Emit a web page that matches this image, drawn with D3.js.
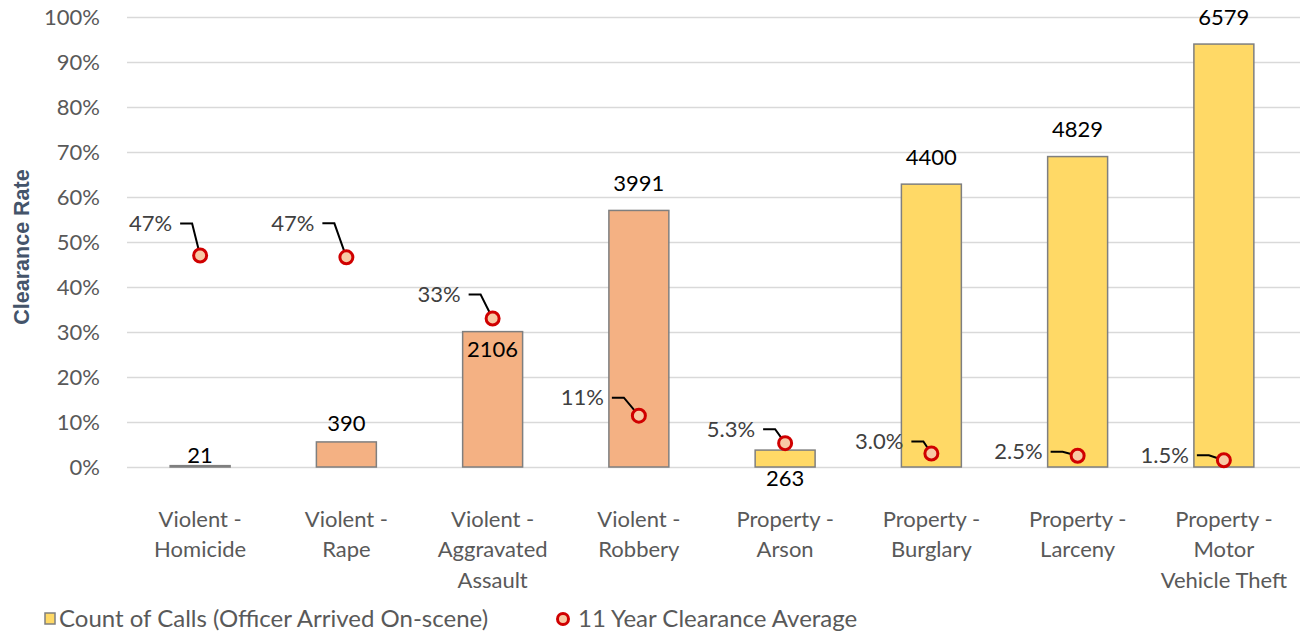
<!DOCTYPE html>
<html>
<head>
<meta charset="utf-8">
<script src="https://cdn.jsdelivr.net/npm/d3@7"></script>
<style>
	body { margin: 0; background: #ffffff; }
	svg { font-family: Lato, "Open Sans", sans-serif; }
</style>
</head>
<body>
<div id="div_id_main"></div>
<script>

// ---- data -----------------------------------------------------------

const categories = ["Violent - Homicide", "Violent - Rape", "Violent - Aggravated Assault", "Violent - Robbery",
					"Property - Arson", "Property - Burglary", "Property - Larceny", "Property - Motor Vehicle Theft"];

const categoryLines = [["Violent -", "Homicide"], ["Violent -", "Rape"], ["Violent -", "Aggravated", "Assault"], ["Violent -", "Robbery"],
					   ["Property -", "Arson"], ["Property -", "Burglary"], ["Property -", "Larceny"], ["Property -", "Motor", "Vehicle Theft"]];

const callCounts = [21, 390, 2106, 3991, 263, 4400, 4829, 6579];

const clearanceAvg = [0.47, 0.466, 0.33, 0.114, 0.053, 0.030, 0.025, 0.015];

const clearanceLabels = ["47%", "47%", "33%", "11%", "5.3%", "3.0%", "2.5%", "1.5%"];

const yTicks = [0, 0.1, 0.2, 0.3, 0.4, 0.5, 0.6, 0.7, 0.8, 0.9, 1.0];

const legendNames = ["Count of Calls (Officer Arrived On-scene)", "11 Year Clearance Average"];

// ---- layout (label placement, not data) -----------------------------

const W = 1302, H = 634;
const PLOT_L = 127, PLOT_R = 1297, PLOT_T = 17, PLOT_B = 467;
const COUNT_MAX = 7000;
const FONT = 22;

// vertical shift of each count label from its bar top ("base" = from the baseline)
const barLabelDy = [-10, -19, 18, -27, "base", -27, -27, -27];

// leader line start (relative to the marker)
const leaderOffset = [[-20, -32], [-24, -34], [-24, -24], [-27, -18], [-22, -14], [-20, -12], [-27, -4], [-27, -5]];

const COLOR_VIOLENT = "#F4B183";
const COLOR_PROPERTY = "#FFD966";

// ---------------------------------------------------------------------

let fScale_X = d3.scaleBand()
					.domain(categories)
					.range([PLOT_L, PLOT_R])
					.paddingInner(0.59)
					.paddingOuter(0.295);

let fScale_Rate = d3.scaleLinear()
					.domain([0, 1])
					.range([PLOT_B, PLOT_T]);

let fScale_Count = d3.scaleLinear()
					.domain([0, COUNT_MAX])
					.range([PLOT_B, PLOT_T]);

let svgMain = d3.select("#div_id_main")
				.append("svg")
					.attr("width", W)
					.attr("height", H);

// gridlines
let gAxisY = svgMain.append("g")
				.attr("transform", "translate(" + PLOT_L + ",0)")
				.call(d3.axisLeft(fScale_Rate)
						.tickValues(yTicks)
						.tickSize(-(PLOT_R + 3 - PLOT_L))
						.tickPadding(27)
						.tickFormat(d3.format(".0%")));

gAxisY.select(".domain").remove();
gAxisY.selectAll(".tick line")
		.attr("stroke", "#D9D9D9")
		.attr("stroke-width", 1.3);
gAxisY.selectAll(".tick text")
		.attr("fill", "#595959")
		.attr("font-size", FONT + "px")
		.attr("font-family", "Lato, sans-serif");

// axis title
svgMain.append("text")
		.attr("transform", "translate(29," + 247 + ") rotate(-90)")
		.attr("text-anchor", "middle")
		.attr("font-family", "'Liberation Sans', Arial, sans-serif")
		.attr("font-size", "21.5px")
		.attr("font-weight", "bold")
		.attr("fill", "#44546A")
		.text("Clearance Rate");

// bars
let dsRows = categories.map(function(c, i) {
	return { name: c, count: callCounts[i], rate: clearanceAvg[i], label: clearanceLabels[i], i: i };
});

function funcBarColor(d) {
	return d.name.indexOf("Violent") == 0 ? COLOR_VIOLENT : COLOR_PROPERTY;
}

svgMain.append("g")
	.selectAll("rect")
	.data(dsRows)
	.enter()
		.append("rect")
			.attr("x", function(d) { return fScale_X(d.name); })
			.attr("y", function(d) { return fScale_Count(d.count); })
			.attr("width", fScale_X.bandwidth())
			.attr("height", function(d) { return fScale_Count(0) - fScale_Count(d.count); })
			.attr("fill", funcBarColor)
			.attr("stroke", "#7F7F7F")
			.attr("stroke-width", 1.5);

// count labels
svgMain.append("g")
	.selectAll("text")
	.data(dsRows)
	.enter()
		.append("text")
			.attr("x", function(d) { return fScale_X(d.name) + fScale_X.bandwidth() / 2; })
			.attr("y", function(d) {
				let dy = barLabelDy[d.i];
				if (dy == "base") return fScale_Count(0) + 11;
				return fScale_Count(d.count) + dy;
			})
			.attr("dy", "0.35em")
			.attr("text-anchor", "middle")
			.attr("font-size", FONT + "px")
			.attr("fill", "#000000")
			.text(function(d) { return d.count; });

// leader lines
let gPts = svgMain.append("g");

gPts.selectAll("path")
	.data(dsRows)
	.enter()
		.append("path")
			.attr("d", function(d) {
				let px = fScale_X(d.name) + fScale_X.bandwidth() / 2;
				let py = fScale_Rate(d.rate);
				let sx = px + leaderOffset[d.i][0];
				let sy = py + leaderOffset[d.i][1];
				return "M" + sx + "," + sy + "L" + (sx + 12) + "," + sy + "L" + px + "," + py;
			})
			.attr("fill", "none")
			.attr("stroke", "#000000")
			.attr("stroke-width", 2);

gPts.selectAll("circle")
	.data(dsRows)
	.enter()
		.append("circle")
			.attr("cx", function(d) { return fScale_X(d.name) + fScale_X.bandwidth() / 2; })
			.attr("cy", function(d) { return fScale_Rate(d.rate); })
			.attr("r", 6.5)
			.attr("fill", "#F8C9A4")
			.attr("stroke", "#D00000")
			.attr("stroke-width", 3);

gPts.selectAll("text")
	.data(dsRows)
	.enter()
		.append("text")
			.attr("x", function(d) { return fScale_X(d.name) + fScale_X.bandwidth() / 2 + leaderOffset[d.i][0] - 8; })
			.attr("y", function(d) { return fScale_Rate(d.rate) + leaderOffset[d.i][1]; })
			.attr("dy", "0.35em")
			.attr("text-anchor", "end")
			.attr("font-size", FONT + "px")
			.attr("fill", "#404040")
			.text(function(d) { return d.label; });

// category labels
let gCat = svgMain.append("g");

categories.forEach(function(c, i) {
	let t = gCat.append("text")
				.attr("x", fScale_X(c) + fScale_X.bandwidth() / 2)
				.attr("y", 519)
				.attr("text-anchor", "middle")
				.attr("font-size", FONT + "px")
				.attr("fill", "#595959");

	categoryLines[i].forEach(function(s, k) {
		t.append("tspan")
			.attr("x", fScale_X(c) + fScale_X.bandwidth() / 2)
			.attr("y", 519 + k * 30.5)
			.attr("dy", "0.35em")
			.text(s);
	});
});

// legend
let gLegend = svgMain.append("g");

gLegend.append("rect")
		.attr("x", 45)
		.attr("y", 613)
		.attr("width", 10)
		.attr("height", 11)
		.attr("fill", COLOR_PROPERTY)
		.attr("stroke", "#7F7F7F")
		.attr("stroke-width", 1.5);

gLegend.append("text")
		.attr("x", 59)
		.attr("y", 619)
		.attr("dy", "0.35em")
		.attr("font-size", "24px")
		.attr("fill", "#595959")
		.text(legendNames[0]);

gLegend.append("circle")
		.attr("cx", 563)
		.attr("cy", 619)
		.attr("r", 5.5)
		.attr("fill", "#F8C9A4")
		.attr("stroke", "#D00000")
		.attr("stroke-width", 3);

gLegend.append("text")
		.attr("x", 578)
		.attr("y", 619)
		.attr("dy", "0.35em")
		.attr("font-size", "24px")
		.attr("fill", "#595959")
		.text(legendNames[1]);

</script>
</body>
</html>
